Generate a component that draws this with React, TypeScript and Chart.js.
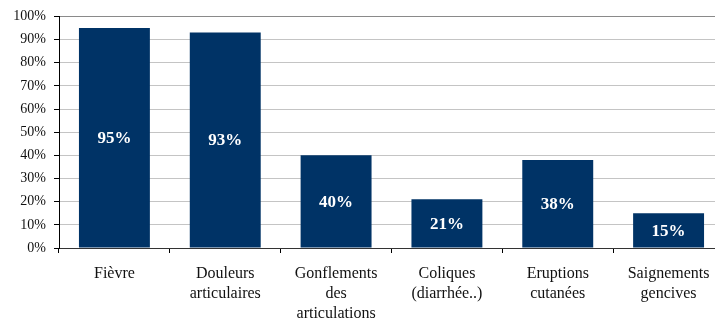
import React, { useEffect, useRef } from "react";
import { Chart, registerables } from "chart.js";

Chart.register(...registerables);

const categories: string[][] = [
  ["Fièvre"],
  ["Douleurs", "articulaires"],
  ["Gonflements", "des", "articulations"],
  ["Coliques", "(diarrhée..)"],
  ["Eruptions", "cutanées"],
  ["Saignements", "gencives"],
];
const percentages: number[] = [95, 93, 40, 21, 38, 15];
const yTicks: number[] = [0, 10, 20, 30, 40, 50, 60, 70, 80, 90, 100];

const SERIF = '"Liberation Serif", "Times New Roman", serif';
const BAR_COLOR = "#003366";

// Writes each bar's value in white, centred inside the bar.
const barValueLabels = {
  id: "barValueLabels",
  afterDatasetsDraw(chart: any) {
    const ctx = chart.ctx;
    const meta = chart.getDatasetMeta(0);
    const values = chart.data.datasets[0].data as number[];
    ctx.save();
    ctx.fillStyle = "#ffffff";
    ctx.font = `bold 17px ${SERIF}`;
    ctx.textAlign = "center";
    ctx.textBaseline = "middle";
    meta.data.forEach((bar: any, i: number) => {
      const { x, y, base } = bar.getProps(["x", "y", "base"], true);
      ctx.fillText(`${values[i]}%`, x, (y + base) / 2 + 1);
    });
    ctx.restore();
  },
};

export default function App() {
  const canvasRef = useRef<HTMLCanvasElement | null>(null);

  useEffect(() => {
    if (!canvasRef.current) return;
    const chart = new Chart(canvasRef.current, {
      type: "bar",
      data: {
        labels: categories,
        datasets: [
          {
            data: percentages,
            backgroundColor: BAR_COLOR,
            borderWidth: 0,
            barPercentage: 0.64,
            categoryPercentage: 1,
          },
        ],
      },
      options: {
        responsive: false,
        animation: false,
        events: [],
        layout: { padding: { top: 16, right: 0, left: 0, bottom: 0 } },
        plugins: {
          legend: { display: false },
          tooltip: { enabled: false },
        },
        scales: {
          x: {
            afterFit: (scale: any) => {
              scale.height = 73;
            },
            grid: {
              offset: true,
              drawOnChartArea: false,
              drawTicks: true,
              tickLength: 5,
              tickColor: "#000000",
            },
            border: { color: "#333333", width: 1 },
            ticks: {
              color: "#111111",
              padding: 11,
              maxRotation: 0,
              autoSkip: false,
              font: { family: SERIF, size: 16, lineHeight: 1.25 },
            },
          },
          y: {
            min: 0,
            max: 100,
            afterFit: (scale: any) => {
              scale.width = 59;
            },
            afterBuildTicks: (scale: any) => {
              scale.ticks = yTicks.map((v) => ({ value: v }));
            },
            grid: {
              color: (c: any) => (c.tick && c.tick.value === 100 ? "#8a8a8a" : "#c4c4c4"),
              lineWidth: 1,
              tickLength: 5,
              tickColor: "#000000",
            },
            border: { color: "#000000", width: 1 },
            ticks: {
              color: "#111111",
              padding: 8,
              font: { family: SERIF, size: 14 },
              callback: (v: any) => `${v}%`,
            },
          },
        },
      },
      plugins: [barValueLabels],
    });
    return () => chart.destroy();
  }, []);

  return (
    <div
      style={{
        position: "fixed",
        left: 0,
        top: 0,
        width: 715,
        height: 321,
        overflow: "hidden",
        background: "#ffffff",
      }}
    >
      <canvas ref={canvasRef} width={724} height={321} style={{ display: "block" }} />
    </div>
  );
}
